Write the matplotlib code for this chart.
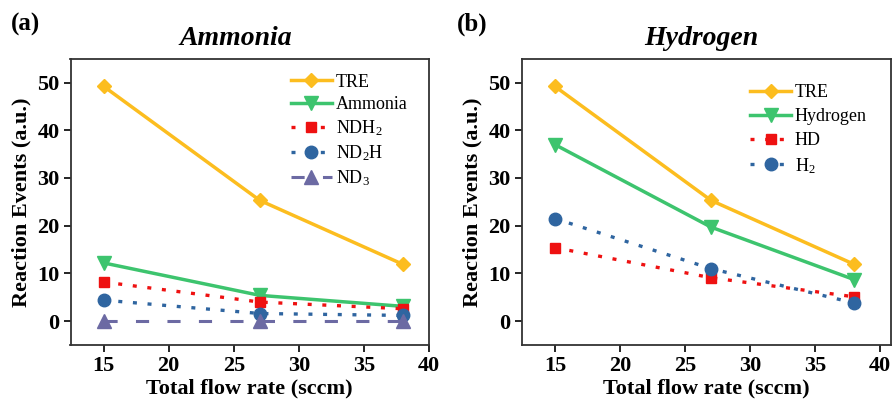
import matplotlib
matplotlib.use("Agg")
import matplotlib.pyplot as plt

plt.rcParams['font.family'] = ['Liberation Serif', 'DejaVu Serif']
plt.rcParams['mathtext.fontset'] = 'custom'
plt.rcParams['mathtext.rm'] = 'Liberation Serif'
plt.rcParams['mathtext.it'] = 'Liberation Serif:italic'
plt.rcParams['mathtext.bf'] = 'Liberation Serif:bold'

flow = [15, 27, 38]

# (a) Ammonia
a_tre = [49.2, 25.3, 11.9]
a_ammonia = [12.2, 5.4, 3.1]
a_ndh2 = [8.2, 4.0, 2.6]
a_nd2h = [4.4, 1.6, 1.2]
a_nd3 = [0.0, 0.0, 0.0]

# (b) Hydrogen
b_tre = [49.2, 25.3, 11.9]
b_hydrogen = [37.0, 19.7, 8.7]
b_hd = [15.4, 9.1, 5.1]
b_h2 = [21.5, 11.0, 3.8]

yticks = [0, 10, 20, 30, 40, 50]
xticks = [15, 20, 25, 30, 35, 40]

C_TRE = '#FCBD1F'
C_GREEN = '#3DC46E'
C_RED = '#EE1111'
C_BLUE = '#2F65A0'
C_PURPLE = '#6C6AA3'

W, H = 894, 399
fig = plt.figure(figsize=(W / 100, H / 100), dpi=100)

def rect(l, r, t, b):
    return [l / W, 1 - b / H, (r - l) / W, (b - t) / H]

axA = fig.add_axes(rect(70.5, 429, 58.7, 345))
axB = fig.add_axes(rect(521.7, 890.7, 58.7, 345))

dot = (0, (1.2, 3.2))
dash = (0, (4.3, 6.0))

def style(ax, xlim):
    ax.set_xlim(*xlim)
    ax.set_ylim(-5, 55)
    ax.set_xticks(xticks)
    ax.set_yticks(yticks)
    ax.tick_params(direction='out', length=5, width=1.2, pad=3, labelsize=16)
    for lab in ax.get_xticklabels() + ax.get_yticklabels():
        lab.set_fontweight('bold')
    for s in ax.spines.values():
        s.set_linewidth(1.3)
        s.set_color('#333333')
    ax.set_xlabel('Total flow rate (sccm)', fontsize=16, fontweight='bold', labelpad=2)
    ax.set_ylabel('Reaction Events (a.u.)', fontsize=16, fontweight='bold', labelpad=4)

# Panel (a)
axA.plot(flow, a_tre, color=C_TRE, lw=2.5, marker='D', ms=7, label='TRE')
axA.plot(flow, a_ammonia, color=C_GREEN, lw=2.5, marker='v', ms=10, label='Ammonia')
axA.plot(flow, a_ndh2, color=C_RED, lw=2.4, ls=dot, marker='s', ms=7, label='NDH$_2$')
axA.plot(flow, a_nd2h, color=C_BLUE, lw=2.4, ls=dot, marker='o', ms=9, label='ND$_2$H')
axA.plot(flow, a_nd3, color=C_PURPLE, lw=2.2, ls=dash, marker='^', ms=10, label='ND$_3$')
style(axA, (12.45, 40))
axA.legend(loc='upper right', bbox_to_anchor=(0.975, 0.992), frameon=False, fontsize=13,
           handlelength=2.3, labelspacing=0.3, handletextpad=0.2, borderaxespad=0.3)

# Panel (b)
axB.plot(flow, b_tre, color=C_TRE, lw=2.5, marker='D', ms=7, label='TRE')
axB.plot(flow, b_hydrogen, color=C_GREEN, lw=2.5, marker='v', ms=10, label='Hydrogen')
axB.plot(flow, b_hd, color=C_RED, lw=2.4, ls=dot, marker='s', ms=7, label='HD')
axB.plot(flow, b_h2, color=C_BLUE, lw=2.4, ls=dot, marker='o', ms=9, label='H$_2$')
style(axB, (12.45, 40.8))
axB.legend(loc='upper right', bbox_to_anchor=(0.97, 0.955), frameon=False, fontsize=13,
           handlelength=2.3, labelspacing=0.38, handletextpad=0.2, borderaxespad=0.3)

fig.text(236 / W, 1 - 45 / H, 'Ammonia', fontsize=20, fontweight='bold', style='italic',
         ha='center', va='baseline')
fig.text(701 / W, 1 - 45 / H, 'Hydrogen', fontsize=20, fontweight='bold', style='italic',
         ha='center', va='baseline')
fig.text(11 / W, 1 - 31 / H, '(a)', fontsize=18, fontweight='bold', ha='left', va='baseline')
fig.text(457 / W, 1 - 31 / H, '(b)', fontsize=18, fontweight='bold', ha='left', va='baseline')

fig.savefig('out.png', dpi=100)
